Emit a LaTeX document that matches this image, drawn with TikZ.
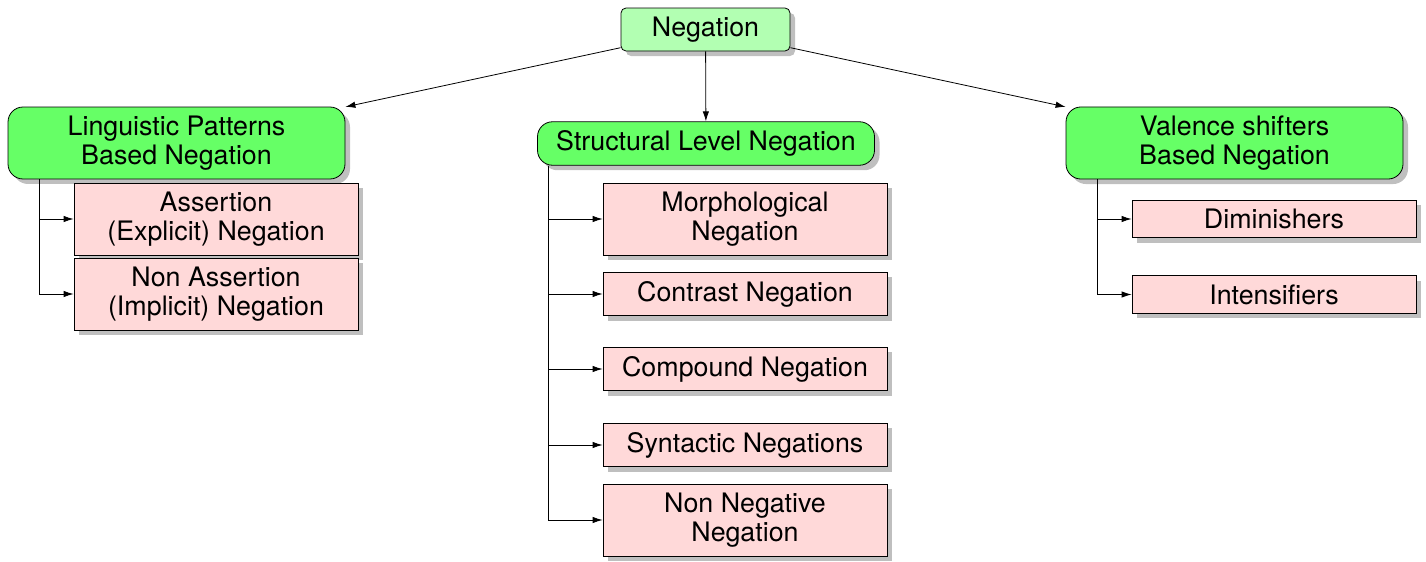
\documentclass[tikz,border=0pt]{standalone}
\usepackage{fontspec}
\setmainfont{TeX Gyre Heros}
\usetikzlibrary{arrows.meta,shadows}

\begin{document}
\begin{tikzpicture}[x=0.5pt, y=-0.5pt,
  box/.style={draw, align=center, inner sep=4.4pt,
    font=\fontsize{13.4}{14.5}\selectfont,
    drop shadow={shadow xshift=2.5pt, shadow yshift=-2.5pt}},
  rootnode/.style={box, rounded corners=2.5pt, fill=green!30,
    minimum width=84.5pt, minimum height=21.5pt},
  catnode/.style={box, rounded corners=7.5pt, fill=green!60,
    minimum width=168.5pt},
  leafnode/.style={box, fill=red!15, minimum width=142pt},
  arr/.style={-{Latex[length=5pt, width=3.2pt]}}
]
  \useasboundingbox (0,0) rectangle (1426,562);

  % top
  \node[rootnode] (neg) at (705.5,29.5) {Negation};

  % categories
  \node[catnode] (ling) at (176.5,143) {Linguistic Patterns\\Based Negation};
  \node[catnode] (struct) at (706,143.5) {Structural Level Negation};
  \node[catnode] (val) at (1234.5,143) {Valence shifters\\Based Negation};

  \draw[arr] (neg) -- (ling);
  \draw[arr] (neg) -- (struct);
  \draw[arr] (neg) -- (val);

  % linguistic patterns
  \node[leafnode] (assert) at (216,219) {Assertion\\(Explicit) Negation};
  \node[leafnode] (nonassert) at (216,294) {Non Assertion\\(Implicit) Negation};

  \draw[arr] ([xshift=16pt]ling.south west) |- (assert.west);
  \draw[arr] ([xshift=16pt]ling.south west) |- (nonassert.west);

  % structural level
  \node[leafnode] (morph) at (745,219) {Morphological\\Negation};
  \node[leafnode] (contrast) at (745,294) {Contrast Negation};
  \node[leafnode] (compound) at (745,369) {Compound Negation};
  \node[leafnode] (syntactic) at (745,445) {Syntactic Negations};
  \node[leafnode] (nonneg) at (745,520) {Non Negative\\Negation};

  \foreach \n in {morph,contrast,compound,syntactic,nonneg}
    \draw[arr] ([xshift=5.5pt]struct.south west) |- (\n.west);

  % valence shifters
  \node[leafnode] (dimin) at (1274,219) {Diminishers};
  \node[leafnode] (intens) at (1274,294.5) {Intensifiers};

  \draw[arr] ([xshift=16pt]val.south west) |- (dimin.west);
  \draw[arr] ([xshift=16pt]val.south west) |- (intens.west);
\end{tikzpicture}
\end{document}
